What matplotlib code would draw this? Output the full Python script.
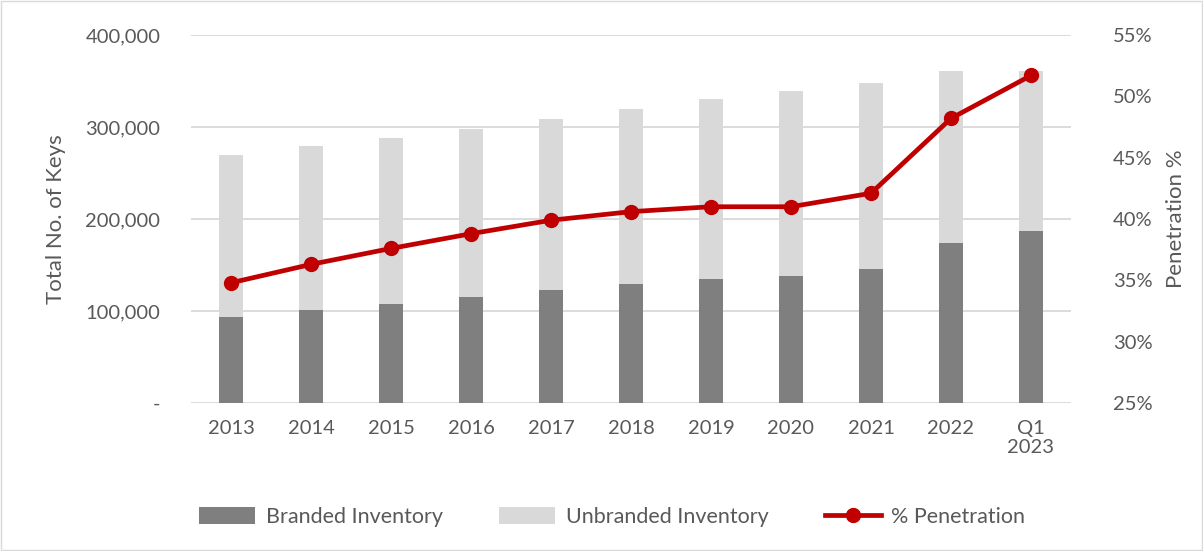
import matplotlib.pyplot as plt
from matplotlib.ticker import FuncFormatter
from matplotlib.patches import Rectangle

plt.rcParams['font.family'] = ['Lato', 'DejaVu Sans']

categories = ["2013", "2014", "2015", "2016", "2017", "2018", "2019", "2020", "2021", "2022", "Q1\n2023"]
branded = [94000, 101000, 108000, 115500, 122500, 129500, 135000, 138500, 146000, 174000, 186500]
total = [270000, 279500, 288500, 298000, 309000, 319500, 330500, 339500, 348000, 361000, 360500]
unbranded = [t - b for t, b in zip(total, branded)]
penetration = [34.8, 36.3, 37.6, 38.8, 39.9, 40.6, 41.0, 41.0, 42.1, 48.2, 51.7]

text_color = "#595959"
grid_color = "#D9D9D9"

fig = plt.figure(figsize=(12.03, 5.51), dpi=100)
ax = fig.add_axes([191 / 1203, 1 - 403 / 551, 880 / 1203, 368 / 551])
x = list(range(len(categories)))

ax.bar(x, branded, width=0.31, color="#7F7F7F", label="Branded Inventory", zorder=2)
ax.bar(x, unbranded, width=0.31, bottom=branded, color="#D9D9D9", label="Unbranded Inventory", zorder=2)
ax.set_xlim(-0.5, len(categories) - 0.5)
ax.set_ylim(0, 400000)
ax.set_yticks([0, 100000, 200000, 300000, 400000])
ax.yaxis.set_major_formatter(FuncFormatter(lambda v, p: "-" if v == 0 else f"{int(v):,}"))
ax.grid(axis="y", color=grid_color, linewidth=1.3, zorder=0)
ax.set_axisbelow(True)
ax.set_xticks(x)
ax.set_xticklabels(categories)
ax.set_ylabel("Total No. of Keys", fontsize=16, color=text_color, labelpad=14)
for s in ax.spines.values():
    s.set_visible(False)
ax.tick_params(axis="both", length=0, labelsize=14.5, colors=text_color, pad=12)
ax.tick_params(axis="y", pad=22)

ax2 = ax.twinx()
ax2.plot(x, penetration, color="#C00000", linewidth=3.4, marker="o", markersize=10,
         label="% Penetration", zorder=3)
ax2.set_ylim(25, 55)
ax2.set_yticks([25, 30, 35, 40, 45, 50, 55])
ax2.yaxis.set_major_formatter(FuncFormatter(lambda v, p: f"{int(v)}%"))
ax2.set_ylabel("Penetration %", fontsize=16, color=text_color, labelpad=10)
for s in ax2.spines.values():
    s.set_visible(False)
ax2.tick_params(axis="y", length=0, labelsize=14.5, colors=text_color, pad=30)

h1, l1 = ax.get_legend_handles_labels()
h2, l2 = ax2.get_legend_handles_labels()
fig.legend(h1 + h2, l1 + l2, loc="center", bbox_to_anchor=(0.509, 1 - 517 / 551), ncol=3,
           frameon=False, fontsize=15.5, labelcolor=text_color, columnspacing=2.6,
           handlelength=2.6, handleheight=0.8, handletextpad=0.5)

fig.patches.append(Rectangle((0.001, 0.001), 0.998, 0.998, transform=fig.transFigure,
                             fill=False, edgecolor="#D9D9D9", linewidth=1))

fig.savefig("out.png", dpi=100)
